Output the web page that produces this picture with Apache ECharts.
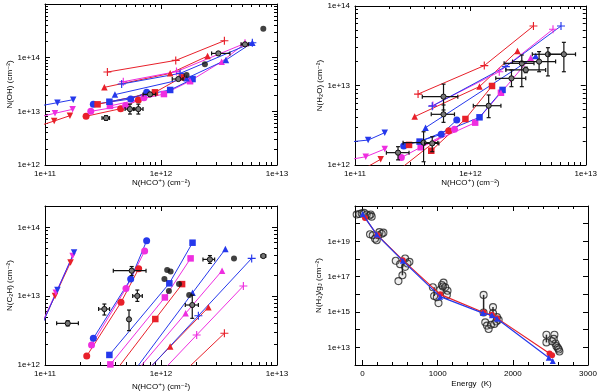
<!DOCTYPE html>
<html><head><meta charset="utf-8">
<script src="https://cdn.jsdelivr.net/npm/echarts@6/dist/echarts.min.js"></script>
<style>html,body{margin:0;padding:0;background:#fff}#c{width:600px;height:392px}</style>
</head><body><div id="c"></div>
<script>
// ---------- Panel 1: N(OH) vs N(HCO+) ----------
const p1RedDown  = [[8.3e10,5.1e12],[1.20e11,6.6e12],[1.64e11,8.3e12]];
const p1MagDown  = [[8.3e10,7.6e12],[1.22e11,9.2e12],[1.73e11,1.09e13]];
const p1BlueDown = [[8.3e10,1.22e13],[1.28e11,1.45e13],[1.75e11,1.65e13]];
const p1RedCirc  = [[2.26e11,8.1e12],[4.49e11,1.12e13],[6.38e11,1.63e13]];
const p1MagCirc  = [[2.48e11,1.0e13],[4.96e11,1.29e13],[7.13e11,1.80e13]];
const p1BlueCirc = [[2.61e11,1.35e13],[5.48e11,1.70e13],[7.52e11,2.26e13]];
const p1RedSq    = [[2.84e11,1.35e13],[8.87e11,2.26e13],[1.51e12,4.3e13]];
const p1MagSq    = [[3.63e11,1.26e13],[1.06e12,2.10e13],[1.78e12,3.67e13]];
const p1BlueSq   = [[3.59e11,1.51e13],[1.20e12,2.50e13],[1.87e12,4.0e13]];
const p1RedUp    = [[3.25e11,2.80e13],[1.20e12,5.1e13],[2.52e12,1.07e14]];
const p1MagUp    = [[1.78e12,3.67e13],[3.33e12,8.4e13],[5.3e12,1.85e14]];
const p1BlueUp   = [[4.01e11,2.05e13],[1.66e12,4.12e13],[3.63e12,9.06e13],[6.13e12,1.90e14]];
const p1RedPlus  = [[3.45e11,5.4e13],[1.34e12,8.9e13],[3.52e12,2.07e14]];
const p1MagPlus  = [[4.73e11,3.57e13],[1.36e12,5.5e13],[5.3e12,1.85e14]];
const p1BluePlus = [[4.58e11,3.23e13],[1.46e12,5.1e13],[6.13e12,1.90e14]];
const p1ObsDots  = [[7.62e12,3.47e14],[2.39e12,7.5e13],[1.66e12,4.75e13]];
// x, y, xlow, xhigh, ylow, yhigh
const p1ObsErr = [
  [5.3e12,1.77e14,4.9e12,5.7e12,1.7e14,1.84e14],
  [3.12e12,1.20e14,2.73e12,3.93e12,1.14e14,1.26e14],
  [1.41e12,4.0e13,1.25e12,1.55e12,3.8e13,4.2e13],
  [8.04e11,2.07e13,7.0e11,9.0e11,1.9e13,2.25e13],
  [5.4e11,1.10e13,4.9e11,5.95e11,8.9e12,1.36e13],
  [6.38e11,1.10e13,5.8e11,7.0e11,8.9e12,1.36e13],
  [3.36e11,7.5e12,3.1e11,3.6e11,6.8e12,8.3e12]
];

// ---------- Panel 2: N(H2O) vs N(HCO+) ----------
const p2RedDown  = [[1.20e11,9.0e11],[1.67e11,1.18e12]];
const p2MagDown  = [[9.0e10,1.17e12],[1.24e11,1.27e12],[1.81e11,1.59e12]];
const p2BlueDown = [[9.0e10,1.95e12],[1.30e11,2.06e12],[1.81e11,2.55e12]];
const p2RedCirc  = [[2.6e11,9.5e11],[6.5e11,2.70e12]];
const p2MagCirc  = [[2.52e11,1.24e12],[7.28e11,2.81e12]];
const p2BlueCirc = [[2.64e11,1.73e12],[5.59e11,2.43e12],[7.62e11,3.68e12]];
const p2RedSqLone= [[2.94e11,1.79e12]];
const p2RedSq    = [[4.58e11,1.51e12],[9.06e11,3.79e12],[1.54e12,9.86e12]];
const p2MagSq    = [[3.71e11,1.67e12],[1.10e12,3.41e12],[1.84e12,8.1e12]];
const p2BlueSq   = [[3.63e11,1.97e12],[1.20e12,3.98e12],[1.90e12,8.8e12]];
const p2RedUp    = [[3.29e11,4.06e12],[1.20e12,9.7e12],[2.56e12,2.72e13]];
const p2MagUp    = [[1.84e12,8.1e12],[3.33e12,2.24e13]];
const p2BlueUp   = [[4.09e11,2.95e12],[3.68e12,2.35e13]];
const p2RedPlus  = [[3.52e11,7.8e12],[1.32e12,1.78e13],[3.52e12,5.6e13]];
const p2MagPlus  = [[4.73e11,5.6e12],[1.78e12,1.49e13],[5.2e12,5.1e13]];
const p2BluePlus = [[4.67e11,5.5e12],[2.03e12,1.73e13],[6.1e12,5.6e13]];
const p2ObsErr = [
  [2.36e11,1.43e12,1.87e11,2.94e11,1.16e12,1.70e12],
  [3.93e11,1.91e12,2.61e11,5.22e11,1.10e12,2.62e12],
  [4.67e11,1.87e12,4.01e11,5.33e11,1.47e12,2.27e12],
  [5.85e11,7.24e12,3.83e11,7.78e11,4.92e12,1.04e13],
  [5.85e11,4.34e12,4.58e11,7.28e11,3.44e12,5.69e12],
  [1.44e12,5.57e12,1.06e12,1.84e12,3.94e12,7.60e12],
  [2.27e12,1.23e13,1.66e12,3.02e12,9.67e12,1.57e13],
  [2.79e12,1.90e13,1.96e12,3.56e12,9.67e12,2.42e13],
  [3.02e12,1.57e13,2.03e12,4.49e12,1.45e13,1.70e13],
  [3.94e12,2.0e13,2.32e12,5.48e12,1.49e13,2.67e13],
  [4.70e12,2.47e13,3.44e12,6.46e12,1.32e13,2.99e13],
  [6.46e12,2.47e13,4.80e12,8.15e12,1.49e13,3.49e13]
];

// ---------- Panel 3: N(C2H) vs N(HCO+) ----------
const p3RedDown  = [[8.9e10,3.2e12],[1.22e11,1.01e13],[1.66e11,3.1e13]];
const p3MagDown  = [[8.9e10,3.3e12],[1.24e11,1.12e13],[1.73e11,3.84e13]];
const p3BlueDown = [[8.9e10,3.1e12],[1.28e11,1.23e13],[1.78e11,4.34e13]];
const p3RedCirc  = [[2.29e11,1.35e12],[4.52e11,8.15e12],[6.42e11,2.51e13]];
const p3MagCirc  = [[2.52e11,1.95e12],[4.99e11,1.30e13],[7.23e11,4.54e13]];
const p3BlueCirc = [[2.61e11,2.44e12],[5.48e11,1.78e13],[7.52e11,6.4e13]];
const p3RedSq    = [[4.0e11,7.9e11],[8.93e11,4.66e12],[1.52e12,1.50e13]];
const p3MagSq    = [[3.66e11,1.02e12],[1.08e12,9.6e12],[1.80e12,3.55e13]];
const p3BlueSq   = [[3.59e11,1.40e12],[1.18e12,1.54e13],[1.87e12,6.0e13]];
const p3RedUp    = [[7.35e11,7.9e11],[1.20e12,1.85e12],[2.56e12,6.89e12]];
const p3MagUp    = [[6.07e11,7.9e11],[1.63e12,5.64e12],[3.36e12,2.35e13]];
const p3BlueUp   = [[5.78e11,7.9e11],[1.87e12,1.12e13],[3.59e12,4.85e13]];
const p3RedPlus  = [[1.57e12,7.9e11],[3.52e12,2.89e12]];
const p3MagPlus  = [[1.01e12,7.9e11],[2.03e12,2.73e12],[5.13e12,1.41e13]];
const p3BluePlus = [[7.43e11,7.9e11],[2.10e12,5.21e12],[6.05e12,3.55e13]];
const p3ObsDots  = [[1.07e12,1.78e13],[1.13e12,2.40e13],[1.21e12,2.28e13],[1.17e12,1.19e13],[1.43e12,1.50e13],[1.75e12,1.04e13],[4.26e12,3.55e13]];
const p3ObsErr = [
  [1.57e11,4.03e12,1.26e11,1.94e11,3.7e12,4.4e12],
  [3.25e11,6.51e12,2.9e11,3.6e11,5.33e12,7.7e12],
  [5.3e11,4.61e12,5.2e11,5.4e11,3.16e12,6.3e12],
  [5.59e11,2.35e13,3.88e11,7.43e11,2.0e13,2.7e13],
  [6.25e11,1.01e13,5.7e11,6.9e11,8.4e12,1.23e13],
  [1.86e12,7.45e12,1.62e12,2.1e12,4.77e12,1.04e13],
  [2.64e12,3.43e13,2.30e12,2.9e12,3.0e13,3.9e13],
  [7.62e12,3.84e13,7.3e12,8.0e12,3.7e13,4.0e13]
];

// ---------- Panel 4: N(H2)/gJ vs Energy ----------
const p4Red  = [[33,2.1e20],[198,2.2e19],[536,8.6e17],[1033,1.0e16],[1611,9.4e14],[1722,6.9e14],[1789,4.5e14],[2489,4.5e12],[2522,3.6e12]];
const p4Blue = [[2,3.5e20],[189,2.4e19],[536,7.9e17],[1033,7.4e15],[1602,8.7e14],[1722,6.5e14],[1789,4.2e14],[2478,2.6e12],[2531,1.7e12]];
const p4Obs = [
  [-78,3.3e20],[-42,3.5e20],[-11,3.9e20],[20,4.1e20],[56,3.3e20],[91,2.9e20],[109,3.3e20],[122,2.5e20],
  [100,2.5e19],[136,2.2e19],[167,1.4e19],[189,1.15e19],[211,2.2e19],[224,3.3e19],[256,2.7e19],[278,3.1e19],
  [442,7.9e17],[500,5.1e17],[531,1.2e17],[478,5.6e16],[567,1.07e18],[598,5.6e17],[624,6.9e17],[567,3.6e17],
  [936,2.5e16],[953,8.1e15],[989,6.9e15],[1011,3.2e15],[1033,1.8e16],[1056,3.4e16],[1078,4.6e16],[1100,2.5e16],[1131,1.6e16],[1069,2.8e16],[1122,9.3e15],
  [1611,9.3e15],[1611,9.3e14],[1736,1.9e15],[1736,8.7e14],[1789,5.1e14],[1811,3.6e14],[1633,2.6e14],[1656,1.7e14],[1678,1.1e14],[1709,1.9e14],[1753,2.1e14],[1780,2.9e14],
  [2447,5.2e13],[2447,1.9e13],[2553,5.2e13],[2544,3.0e13],[2522,2.2e13],[2567,1.66e13],[2580,1.17e13],[2598,9.3e12],[2611,7.6e12],[2620,5.8e12]
];
// energy, upper, lower
const p4Ranges = [[531,5.1e17,1.2e17],[953,2.5e16,8.1e15],[1611,9.3e15,9.4e14],[1736,1.9e15,8.7e14],[2447,5.2e13,1.9e13]];

// tick values
const xLogMajors = [1e11,1e12,1e13];
const p1YMajors = [1e12,1e13,1e14,1e15];
const p2YMajors = [1e12,1e13,1e14];
const p3YMajors = [1e12,1e13,1e14];
const p4YMajors = [1e12,1e13,1e14,1e15,1e16,1e17,1e18,1e19,1e20,1e21];
const p4YLabels = [1e13,1e15,1e17,1e19,1e21];
const p4XLabels = [0,1000,2000,3000];
const p4XMinors = [200,400,600,800,1200,1400,1600,1800,2200,2400,2600,2800];

function minorLog(decs){const r=[];decs.forEach(d=>{for(let k=2;k<=9;k++)r.push(k*d);});return r;}

const FONT = '"Liberation Sans", "DejaVu Sans", Arial, sans-serif';
const COLORS = {red:'#e8202a', mag:'#ee2ee0', blue:'#2538ec'};
const PLUS = 'path://M3,0H4V3H7V4H4V7H3V4H0V3H3Z';
const SHAPES = {down:['triangle',180,6.5], circ:['circle',0,7], sq:['rect',0,6.5], up:['triangle',0,6.5], plus:[PLUS,0,8]};
const logFmt = v => '1e+' + Math.round(Math.log10(v));

const grids = [
  {left:45, top:4, width:232, height:161},
  {left:355, top:6, width:232, height:159},
  {left:45, top:206, width:232, height:159},
  {left:355, top:206, width:233, height:159}
];

const xAxes=[], yAxes=[];
function addAxes(list, g, isX, cfg){
  const pos = isX ? ['bottom','top'] : ['left','right'];
  const base = {type:cfg.type, gridIndex:g, min:cfg.min, max:cfg.max, splitLine:{show:false}, axisPointer:{show:false}};
  if(cfg.type==='log') base.logBase = 10;
  const line = {show:true, onZero:false, lineStyle:{color:'#000', width:1}};
  const noline = {show:false, onZero:false};
  const ts = {color:'#000', width:1};
  list.push(Object.assign({}, base, {position:pos[0], axisLine:line,
    axisTick:{show:true, inside:true, length:5, customValues:cfg.majors, lineStyle:ts},
    axisLabel:{show:true, customValues:cfg.labels, formatter:cfg.fmt, fontSize:8, fontFamily:FONT, color:'#000', margin:5},
    name:cfg.name, nameLocation:'middle', nameGap:cfg.nameGap,
    nameTextStyle:{fontSize:8, fontFamily:FONT, color:'#000', rich:{s:{fontSize:6, fontFamily:FONT, color:'#000', padding:[4,0,0,0]}}}}));
  list.push(Object.assign({}, base, {position:pos[0], axisLine:noline,
    axisTick:{show:true, inside:true, length:3, customValues:cfg.minors, lineStyle:ts}, axisLabel:{show:false}}));
  list.push(Object.assign({}, base, {position:pos[1], axisLine:line,
    axisTick:{show:true, inside:true, length:5, customValues:cfg.majors, lineStyle:ts}, axisLabel:{show:false}}));
  list.push(Object.assign({}, base, {position:pos[1], axisLine:noline,
    axisTick:{show:true, inside:true, length:3, customValues:cfg.minors, lineStyle:ts}, axisLabel:{show:false}}));
}
const hcoName = 'N(HCO⁺) (cm⁻²)';
addAxes(xAxes,0,true,{type:'log',min:1e11,max:1e13,majors:xLogMajors,labels:xLogMajors,minors:minorLog([1e11,1e12]),fmt:logFmt,name:hcoName,nameGap:13});
addAxes(yAxes,0,false,{type:'log',min:1e12,max:1e15,majors:p1YMajors,labels:p1YMajors,minors:minorLog([1e12,1e13,1e14]),fmt:logFmt,name:'N(OH) (cm⁻²)',nameGap:31});
addAxes(xAxes,1,true,{type:'log',min:1e11,max:1e13,majors:xLogMajors,labels:xLogMajors,minors:minorLog([1e11,1e12]),fmt:logFmt,name:hcoName,nameGap:13});
addAxes(yAxes,1,false,{type:'log',min:1e12,max:1e14,majors:p2YMajors,labels:p2YMajors,minors:minorLog([1e12,1e13]),fmt:logFmt,name:'N(H₂O) (cm⁻²)',nameGap:29});
addAxes(xAxes,2,true,{type:'log',min:1e11,max:1e13,majors:xLogMajors,labels:xLogMajors,minors:minorLog([1e11,1e12]),fmt:logFmt,name:hcoName,nameGap:18});
addAxes(yAxes,2,false,{type:'log',min:1e12,max:2.05e14,majors:p3YMajors,labels:p3YMajors,minors:minorLog([1e12,1e13]).concat([2e14]),fmt:logFmt,name:'N(C₂H) (cm⁻²)',nameGap:31});
addAxes(xAxes,3,true,{type:'value',min:-100,max:3000,majors:p4XLabels,labels:p4XLabels,minors:p4XMinors,fmt:v=>String(v),name:'Energy  (K)',nameGap:15});
addAxes(yAxes,3,false,{type:'log',min:1e12,max:1e21,majors:p4YMajors,labels:p4YLabels,minors:[],fmt:logFmt,name:'N(H₂)/g{s|J} (cm⁻²)',nameGap:29});

function modelSeries(g, c, s, data){
  const sh = SHAPES[s];
  return {type:'line', xAxisIndex:4*g, yAxisIndex:4*g, data:data, symbol:sh[0], symbolRotate:sh[1], symbolSize:sh[2],
    clip:true, lineStyle:{color:COLORS[c], width:1}, itemStyle:{color:COLORS[c]}, emphasis:{disabled:true}, z:2};
}
function dotSeries(g, data){
  return {type:'scatter', xAxisIndex:4*g, yAxisIndex:4*g, data:data, symbol:'circle', symbolSize:6, clip:true,
    itemStyle:{color:'#111'}, emphasis:{disabled:true}, z:5};
}
function errSeries(g, data){
  return {type:'custom', xAxisIndex:4*g, yAxisIndex:4*g, data:data, encode:{x:[0,2,3], y:[1,4,5]}, clip:true, z:6,
    renderItem:function(params, api){
      const x=api.value(0), y=api.value(1);
      const c=api.coord([x,y]);
      const xa=api.coord([api.value(2),y])[0], xb=api.coord([api.value(3),y])[0];
      const ya=api.coord([x,api.value(4)])[1], yb=api.coord([x,api.value(5)])[1];
      const st={stroke:'#111', lineWidth:1.2};
      const k=2;
      return {type:'group', children:[
        {type:'line', shape:{x1:xa,y1:c[1],x2:xb,y2:c[1]}, style:st},
        {type:'line', shape:{x1:xa,y1:c[1]-k,x2:xa,y2:c[1]+k}, style:st},
        {type:'line', shape:{x1:xb,y1:c[1]-k,x2:xb,y2:c[1]+k}, style:st},
        {type:'line', shape:{x1:c[0],y1:ya,x2:c[0],y2:yb}, style:st},
        {type:'line', shape:{x1:c[0]-k,y1:ya,x2:c[0]+k,y2:ya}, style:st},
        {type:'line', shape:{x1:c[0]-k,y1:yb,x2:c[0]+k,y2:yb}, style:st},
        {type:'circle', shape:{cx:c[0],cy:c[1],r:2.6}, style:{stroke:'#111', fill:'#777', lineWidth:1}}
      ]};
    }};
}

const series = [];
const p1Models = [['red','down',p1RedDown],['mag','down',p1MagDown],['blue','down',p1BlueDown],
  ['red','circ',p1RedCirc],['mag','circ',p1MagCirc],['blue','circ',p1BlueCirc],
  ['red','sq',p1RedSq],['mag','sq',p1MagSq],['blue','sq',p1BlueSq],
  ['red','up',p1RedUp],['mag','up',p1MagUp],['blue','up',p1BlueUp],
  ['red','plus',p1RedPlus],['mag','plus',p1MagPlus],['blue','plus',p1BluePlus]];
const p2Models = [['red','down',p2RedDown],['mag','down',p2MagDown],['blue','down',p2BlueDown],
  ['red','circ',p2RedCirc],['mag','circ',p2MagCirc],['blue','circ',p2BlueCirc],
  ['red','sq',p2RedSqLone],['red','sq',p2RedSq],['mag','sq',p2MagSq],['blue','sq',p2BlueSq],
  ['red','up',p2RedUp],['mag','up',p2MagUp],['blue','up',p2BlueUp],
  ['red','plus',p2RedPlus],['mag','plus',p2MagPlus],['blue','plus',p2BluePlus]];
const p3Models = [['red','down',p3RedDown],['mag','down',p3MagDown],['blue','down',p3BlueDown],
  ['red','circ',p3RedCirc],['mag','circ',p3MagCirc],['blue','circ',p3BlueCirc],
  ['red','sq',p3RedSq],['mag','sq',p3MagSq],['blue','sq',p3BlueSq],
  ['red','up',p3RedUp],['mag','up',p3MagUp],['blue','up',p3BlueUp],
  ['red','plus',p3RedPlus],['mag','plus',p3MagPlus],['blue','plus',p3BluePlus]];
p1Models.forEach(m=>series.push(modelSeries(0,m[0],m[1],m[2])));
p2Models.forEach(m=>series.push(modelSeries(1,m[0],m[1],m[2])));
p3Models.forEach(m=>series.push(modelSeries(2,m[0],m[1],m[2])));
series.push(dotSeries(0,p1ObsDots), errSeries(0,p1ObsErr));
series.push(errSeries(1,p2ObsErr));
series.push(dotSeries(2,p3ObsDots), errSeries(2,p3ObsErr));

// panel 4
series.push({type:'custom', xAxisIndex:12, yAxisIndex:12, data:p4Ranges, encode:{x:0, y:[1,2]}, clip:true, z:3,
  renderItem:function(params, api){
    const a=api.coord([api.value(0),api.value(1)]), b=api.coord([api.value(0),api.value(2)]);
    return {type:'line', shape:{x1:a[0],y1:a[1],x2:b[0],y2:b[1]}, style:{stroke:'#222', lineWidth:1.5}};
  }});
series.push({type:'scatter', xAxisIndex:12, yAxisIndex:12, data:p4Obs, symbol:'circle', symbolSize:7, clip:true, z:4,
  itemStyle:{color:'rgba(120,120,120,0.15)', borderColor:'#222', borderWidth:1.1}, emphasis:{disabled:true}});
series.push({type:'line', xAxisIndex:12, yAxisIndex:12, data:p4Red, symbol:'circle', symbolSize:6, clip:true, z:5,
  lineStyle:{color:COLORS.red, width:1.2}, itemStyle:{color:COLORS.red}, emphasis:{disabled:true}});
series.push({type:'line', xAxisIndex:12, yAxisIndex:12, data:p4Blue, symbol:'triangle', symbolSize:6, clip:true, z:6,
  lineStyle:{color:COLORS.blue, width:1.2}, itemStyle:{color:COLORS.blue}, emphasis:{disabled:true}});

const chart = echarts.init(document.getElementById('c'), null, {renderer:'canvas', width:600, height:392});
chart.setOption({animation:false, backgroundColor:'#fff', grid:grids, xAxis:xAxes, yAxis:yAxes, series:series});
</script></body></html>
